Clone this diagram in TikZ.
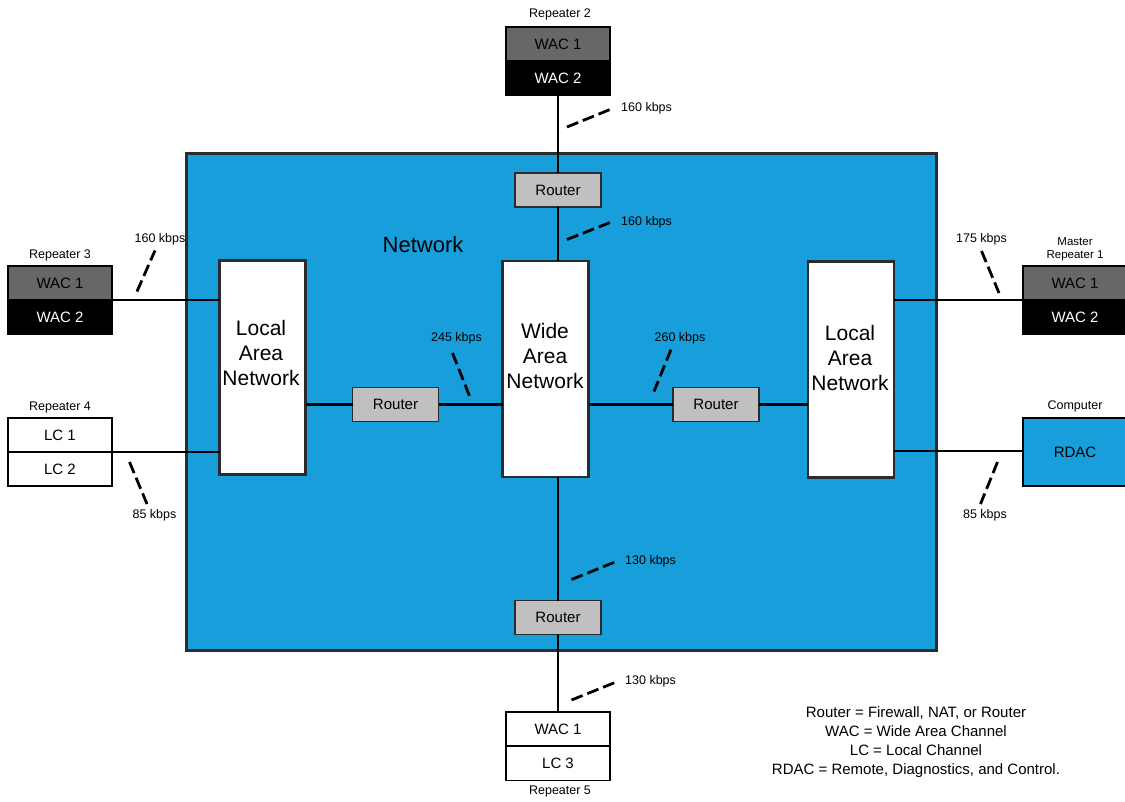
\documentclass[tikz,border=0pt]{standalone}
\usepackage{fontspec}
\setmainfont{Liberation Sans}
\definecolor{netblue}{HTML}{189FDB}
\definecolor{wacgray}{HTML}{676767}
\definecolor{rtgray}{HTML}{C0C0C0}
\definecolor{edgec}{HTML}{2B2B2B}
\newcommand\myfs[2]{\fontsize{#1}{#2}\selectfont}
\begin{document}
\begin{tikzpicture}[x=1pt,y=-1pt,
  netbox/.style={draw=edgec,fill=netblue,line width=3pt,inner sep=0pt,outer sep=0pt},
  lanbox/.style={draw=edgec,fill=white,line width=2.5pt,inner sep=0pt,outer sep=0pt,minimum width=86pt},
  lantext/.style={align=center,font=\myfs{21}{25}},
  rtbox/.style={draw=edgec,fill=rtgray,line width=1.5pt,inner sep=0pt,outer sep=0pt,minimum width=86pt,minimum height=34pt,font=\myfs{15}{18}},
  repbox/.style={draw=black,line width=1.5pt,inner sep=0pt,outer sep=0pt,minimum width=104pt,minimum height=34pt,font=\myfs{15}{18}},
  wacg/.style={repbox,fill=wacgray,text=black},
  wacb/.style={repbox,fill=black,text=white},
  wbox/.style={repbox,fill=white,text=black},
  bbox/.style={repbox,fill=netblue,text=black},
  lbl/.style={inner sep=0pt,font=\myfs{12.5}{14}},
  lbll/.style={lbl,anchor=west},
  thickline/.style={draw=black,line width=2.7pt},
  thinline/.style={draw=black,line width=1.2pt},
  slash/.style={draw=black,line width=2.8pt,dash pattern=on 12pt off 5pt}
]
\useasboundingbox (0,0) rectangle (1125,801);
% network area
\node[netbox,minimum width=750pt,minimum height=497pt] (net) at (561,401.5) {};
\node[font=\myfs{22}{24},inner sep=0pt] (netlbl) at (423,245) {Network};
% central boxes
\node[lanbox,minimum height=214pt] (lanL) at (262.5,367.5) {};
\node[lantext] (lanLt) at (261,353) {Local\\Area\\Network};
\node[lanbox,minimum height=216pt,minimum width=86pt] (wan) at (545.5,369) {};
\node[lantext] (want) at (545,356) {Wide\\Area\\Network};
\node[lanbox,minimum height=216pt] (lanR) at (851,369.5) {};
\node[lantext] (lanRt) at (850,357.5) {Local\\Area\\Network};
% routers
\node[rtbox] (rtT) at (558,190) {Router};
\node[rtbox] (rtB) at (558,617.5) {Router};
\node[rtbox] (rtL) at (395.5,404.5) {Router};
\node[rtbox] (rtR) at (716,404.5) {Router};
% repeaters
\node[wacg] (rep2a) at (558,44) {WAC 1};
\node[wacb] (rep2b) at (558,78) {WAC 2};
\node[lbl] (rep2l) at (560,14.5) {Repeater 2};
\node[wacg] (rep3a) at (60,283) {WAC 1};
\node[wacb] (rep3b) at (60,317.5) {WAC 2};
\node[lbl] (rep3l) at (60,255.5) {Repeater 3};
\node[wbox] (rep4a) at (60,435) {LC 1};
\node[wbox] (rep4b) at (60,469) {LC 2};
\node[lbl] (rep4l) at (60,407.5) {Repeater 4};
\node[wacg] (mr1a) at (1075,283) {WAC 1};
\node[wacb] (mr1b) at (1075,317.5) {WAC 2};
\node[lbl,align=center,font=\myfs{11.5}{13.5}] (mr1l) at (1075,249) {Master\\Repeater 1};
\node[bbox,minimum height=68pt] (rdac) at (1075,452) {RDAC};
\node[lbl] (compl) at (1075,406) {Computer};
\node[wbox] (rep5a) at (558,729) {WAC 1};
\node[wbox] (rep5b) at (558,763.5) {LC 3};
\node[lbl] (rep5l) at (560,791) {Repeater 5};
% connectors
\draw[thickline] (rep2b.south) -- (rtT.north);
\draw[thickline] (rtT.south) -- (rtT.south |- wan.north);
\draw[thickline] (wan.south -| rtB.center) -- (rtB.north);
\draw[thickline] (rtB.south) -- (rep5a.north);
\draw[thickline] (lanL.east |- rtL.center) -- (rtL.west);
\draw[thickline] (rtL.east) -- (rtL.east -| wan.west);
\draw[thickline] (wan.east |- rtR.center) -- (rtR.west);
\draw[thickline] (rtR.east) -- (rtR.east -| lanR.west);
\draw[thinline] (rep3a.south east) -- (rep3a.south east -| lanL.west);
\draw[thinline] ([xshift=-7pt]rep4a.south east) -- (rep4a.south east -| lanL.west);
\draw[thinline] (mr1a.south west) -- (mr1a.south west -| lanR.east);
\draw[thinline] ([yshift=1pt]rdac.west) -- ([yshift=1pt]rdac.west -| lanR.east);
% bandwidth marks
\draw[slash] (567,127) -- (610,109.5);
\node[lbll] (bw1) at (621,108.5) {160 kbps};
\draw[slash] (567,239.5) -- (610,222.5);
\node[lbll] (bw2) at (621,222) {160 kbps};
\draw[slash] (137,291.5) -- (155,250.5);
\node[lbl] (bw3) at (160,239.5) {160 kbps};
\draw[slash] (129.5,462) -- (147,504);
\node[lbl] (bw4) at (154.5,515) {85 kbps};
\draw[slash] (452.5,353) -- (469.5,396);
\node[lbl] (bw5) at (456.5,338.5) {245 kbps};
\draw[slash] (671,349.5) -- (654,391.5);
\node[lbl] (bw6) at (680,338.5) {260 kbps};
\draw[slash] (981.5,251) -- (999,293);
\node[lbl] (bw7) at (981.5,239.5) {175 kbps};
\draw[slash] (997.5,462) -- (980.5,504);
\node[lbl] (bw8) at (985,515) {85 kbps};
\draw[slash] (571.5,579.5) -- (615,562);
\node[lbll] (bw9) at (625,561.5) {130 kbps};
\draw[slash] (571.5,700) -- (615,682.5);
\node[lbll] (bw10) at (625,681) {130 kbps};
% legend
\node[align=center,font=\myfs{15}{19},inner sep=0pt] (legend) at (916,742) {Router = Firewall, NAT, or Router\\WAC = Wide Area Channel\\LC = Local Channel\\RDAC = Remote, Diagnostics, and Control.};
\end{tikzpicture}
\end{document}
